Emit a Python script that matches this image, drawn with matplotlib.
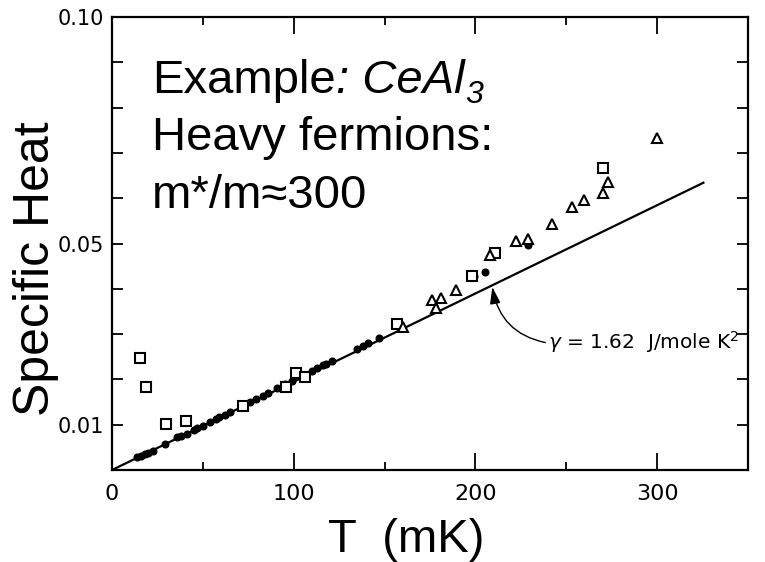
import matplotlib
matplotlib.use("Agg")
import matplotlib.pyplot as plt
from matplotlib.ticker import FixedLocator, FixedFormatter
from matplotlib.transforms import offset_copy

# --- data: specific heat (C/R) of CeAl3 vs temperature (mK) ---
squares_T = [15.5, 18.5, 29.5, 40.5, 72, 96, 101.5, 106, 157, 198, 211, 270]
squares_C = [0.0247, 0.0184, 0.0102, 0.0108, 0.0142, 0.0183, 0.0215, 0.0205,
             0.0323, 0.0429, 0.0480, 0.0667]

triangles_T = [160, 176, 178.5, 181, 189.5, 208, 222.5, 229, 242, 253, 260,
               270, 273, 300]
triangles_C = [0.0316, 0.0375, 0.0357, 0.0380, 0.0397, 0.0475, 0.0505, 0.0511,
               0.0544, 0.0580, 0.0596, 0.0611, 0.0636, 0.0732]

dots_T = [14, 16, 18, 20, 22.5, 29, 36, 38, 41, 45, 47, 50, 54, 57, 59, 62, 65,
          76, 79, 83, 86, 91, 95, 99, 110, 113, 116, 118, 121, 135, 138, 141,
          147, 199, 205, 229]
dots_C = [0.0028, 0.0031, 0.0035, 0.0038, 0.0043, 0.0057, 0.0072, 0.0076,
          0.0080, 0.0089, 0.0092, 0.0098, 0.0106, 0.0112, 0.0116, 0.0122,
          0.0128, 0.0150, 0.0156, 0.0163, 0.0170, 0.0181, 0.0190, 0.0196,
          0.0219, 0.0225, 0.0231, 0.0235, 0.0240, 0.0268, 0.0274, 0.0281,
          0.0292, 0.0428, 0.0436, 0.0497]

# linear term: C/R = (gamma / R) * T
gamma = 1.62          # J / mole K^2
R_gas = 8.314         # J / mole K
fit_T = [0, 326]      # mK

xticks_major = [0, 100, 200, 300]
xtick_labels = ["0", "100", "200", "300"]
xticks_minor = [50, 150, 250]
yticks = [0.00, 0.01, 0.02, 0.03, 0.04, 0.05, 0.06, 0.07, 0.08, 0.09, 0.10]
ytick_labels = ["", "0.01", "", "", "", "0.05", "", "", "", "", "0.10"]

# --- figure ---
fig = plt.figure(figsize=(7.65, 5.62), dpi=100)
ax = fig.add_axes([112 / 765, 1 - 470 / 562, (748 - 112) / 765, (470 - 17) / 562])

fit_C = [gamma / R_gas * t / 1000.0 for t in fit_T]
ax.plot(fit_T, fit_C, color="black", lw=1.6, solid_capstyle="butt", zorder=2)

ax.plot(dots_T, dots_C, "o", ms=4.8, color="black", mec="black", zorder=3)
ax.plot(squares_T, squares_C, "s", ms=7, mfc="white", mec="black", mew=1.5, zorder=4)
ax.plot(triangles_T, triangles_C, "^", ms=7.5, mfc="white", mec="black", mew=1.5, zorder=4)

ax.set_xlim(0, 350)
ax.set_ylim(0, 0.10)

for s in ax.spines.values():
    s.set_linewidth(1.6)

ax.xaxis.set_major_locator(FixedLocator(xticks_major))
ax.xaxis.set_major_formatter(FixedFormatter(xtick_labels))
ax.xaxis.set_minor_locator(FixedLocator(xticks_minor))
ax.yaxis.set_major_locator(FixedLocator(yticks))
ax.yaxis.set_major_formatter(FixedFormatter(ytick_labels))

ax.tick_params(axis="x", which="major", direction="in", length=12, width=1.3,
               top=True, bottom=True, pad=10, labelsize=16)
ax.tick_params(axis="x", which="minor", direction="in", length=6, width=1.3,
               top=True, bottom=True)
ax.tick_params(axis="y", which="major", direction="in", length=8, width=1.3,
               left=True, right=True, pad=6, labelsize=15)

# gamma annotation with curved arrow onto the linear fit
ax.annotate(r"$\gamma$ = 1.62  J/mole K$^2$",
            xy=(209.3, 0.0404), xytext=(240, 0.0283),
            ha="left", va="center", fontsize=14.5,
            arrowprops=dict(arrowstyle="-|>,head_length=0.7,head_width=0.22",
                            color="black", lw=1.0, relpos=(0, 0.45),
                            shrinkA=0, shrinkB=0,
                            connectionstyle="arc3,rad=-0.35"),
            zorder=5)

# --- overlay text ---
big = 34
fam = ["Liberation Sans", "DejaVu Sans"]
renderer = fig.canvas.get_renderer()

x0, y1 = 152 / 765, 1 - 93 / 562
t1 = fig.text(x0, y1, "Example", fontsize=big, family=fam,
              va="baseline", ha="left")
w1 = t1.get_window_extent(renderer).width
t2 = fig.text(x0, y1, ": CeAl", fontsize=big, family=fam, style="italic",
              va="baseline", ha="left",
              transform=offset_copy(fig.transFigure, fig=fig, x=w1, y=0, units="dots"))
w2 = t2.get_window_extent(renderer).width
fig.text(x0, y1, "3", fontsize=big * 0.68, family=fam, style="italic",
         va="baseline", ha="left",
         transform=offset_copy(fig.transFigure, fig=fig, x=w1 + w2 + 1, y=-10,
                               units="dots"))

fig.text(x0, 1 - 150 / 562, "Heavy fermions:",
         fontsize=big, family=fam, va="baseline", ha="left")
fig.text(x0, 1 - 208 / 562, "m*/m≈300",
         fontsize=big, family=fam, va="baseline", ha="left")

fig.text(406.5 / 765, 1 - 552 / 562, "T  (mK)",
         fontsize=34, family=fam, va="baseline", ha="center")
fig.text(36 / 765, 1 - 269 / 562, "Specific Heat", rotation=90,
         fontsize=36, family=fam, va="center", ha="center")

fig.savefig("out.png", dpi=100)
